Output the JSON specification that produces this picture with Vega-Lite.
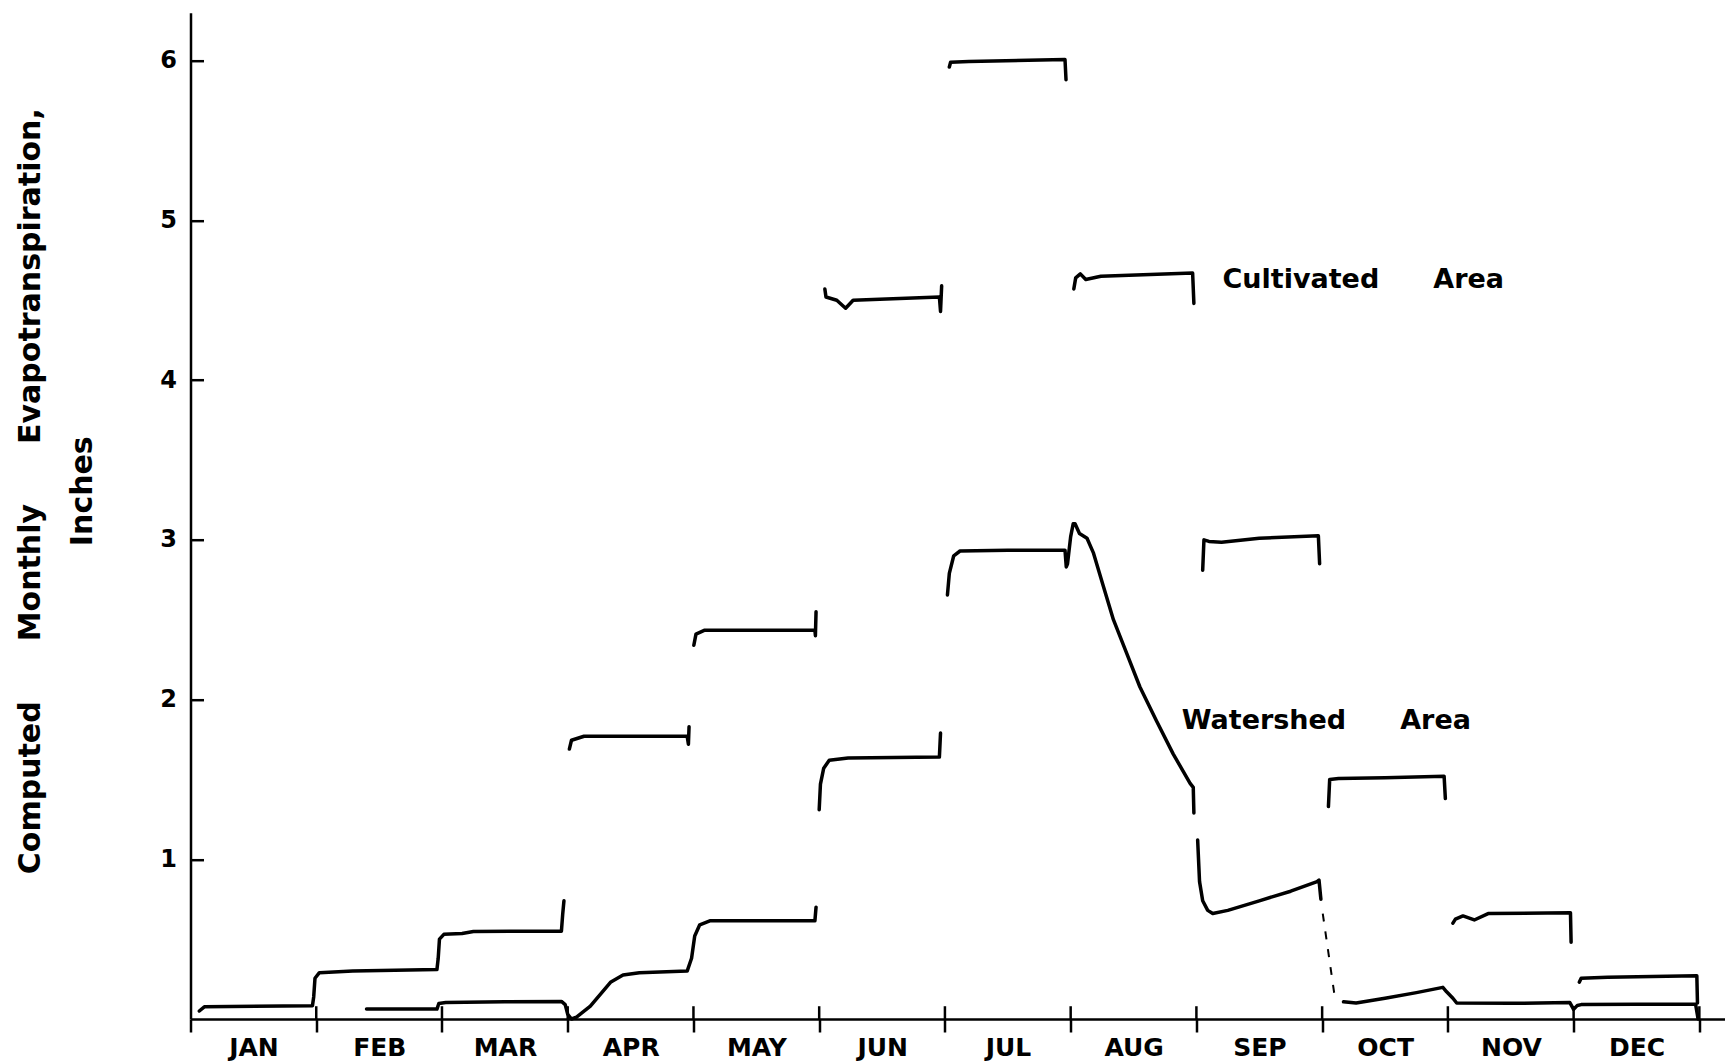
{
  "$schema": "https://vega.github.io/schema/vega-lite/v6.json",
  "width": 1534,
  "height": 1006.3,
  "autosize": {"type": "none"},
  "padding": {"left": 190.5, "top": 12.7, "right": 2.5, "bottom": 45},
  "background": "white",
  "config": {"view": {"stroke": null}, "font": "DejaVu Sans"},
  "datasets": {
    "lines": [
      {"area": "Cultivated", "seg": "C1", "month": 0.07, "inches": 0.05},
      {"area": "Cultivated", "seg": "C1", "month": 0.11, "inches": 0.076},
      {"area": "Cultivated", "seg": "C1", "month": 0.97, "inches": 0.083},
      {"area": "Cultivated", "seg": "C1", "month": 0.98, "inches": 0.14},
      {"area": "Cultivated", "seg": "C1", "month": 0.99, "inches": 0.255},
      {"area": "Cultivated", "seg": "C1", "month": 1.025, "inches": 0.29},
      {"area": "Cultivated", "seg": "C1", "month": 1.29, "inches": 0.3},
      {"area": "Cultivated", "seg": "C1", "month": 1.96, "inches": 0.31},
      {"area": "Cultivated", "seg": "C1", "month": 1.97, "inches": 0.38},
      {"area": "Cultivated", "seg": "C1", "month": 1.98, "inches": 0.5},
      {"area": "Cultivated", "seg": "C1", "month": 2.015, "inches": 0.53},
      {"area": "Cultivated", "seg": "C1", "month": 2.16, "inches": 0.535},
      {"area": "Cultivated", "seg": "C1", "month": 2.25, "inches": 0.548},
      {"area": "Cultivated", "seg": "C1", "month": 2.95, "inches": 0.55},
      {"area": "Cultivated", "seg": "C1", "month": 2.96, "inches": 0.655},
      {"area": "Cultivated", "seg": "C1", "month": 2.97, "inches": 0.74},
      {"area": "Cultivated", "seg": "C2", "month": 3.013, "inches": 1.69},
      {"area": "Cultivated", "seg": "C2", "month": 3.03, "inches": 1.745},
      {"area": "Cultivated", "seg": "C2", "month": 3.13, "inches": 1.77},
      {"area": "Cultivated", "seg": "C2", "month": 3.95, "inches": 1.77},
      {"area": "Cultivated", "seg": "C2", "month": 3.96, "inches": 1.72},
      {"area": "Cultivated", "seg": "C2", "month": 3.965, "inches": 1.83},
      {"area": "Cultivated", "seg": "C3", "month": 4.003, "inches": 2.34},
      {"area": "Cultivated", "seg": "C3", "month": 4.02, "inches": 2.41},
      {"area": "Cultivated", "seg": "C3", "month": 4.09, "inches": 2.434},
      {"area": "Cultivated", "seg": "C3", "month": 4.966, "inches": 2.434},
      {"area": "Cultivated", "seg": "C3", "month": 4.97, "inches": 2.4},
      {"area": "Cultivated", "seg": "C3", "month": 4.975, "inches": 2.55},
      {"area": "Cultivated", "seg": "C4", "month": 5.045, "inches": 4.57},
      {"area": "Cultivated", "seg": "C4", "month": 5.054, "inches": 4.52},
      {"area": "Cultivated", "seg": "C4", "month": 5.14, "inches": 4.5},
      {"area": "Cultivated", "seg": "C4", "month": 5.21, "inches": 4.45},
      {"area": "Cultivated", "seg": "C4", "month": 5.27, "inches": 4.5},
      {"area": "Cultivated", "seg": "C4", "month": 5.956, "inches": 4.52},
      {"area": "Cultivated", "seg": "C4", "month": 5.965, "inches": 4.43},
      {"area": "Cultivated", "seg": "C4", "month": 5.974, "inches": 4.59},
      {"area": "Cultivated", "seg": "C5", "month": 6.035, "inches": 5.96},
      {"area": "Cultivated", "seg": "C5", "month": 6.045, "inches": 5.99},
      {"area": "Cultivated", "seg": "C5", "month": 6.19, "inches": 5.995},
      {"area": "Cultivated", "seg": "C5", "month": 6.955, "inches": 6.007},
      {"area": "Cultivated", "seg": "C5", "month": 6.963, "inches": 5.88},
      {"area": "Cultivated", "seg": "C6", "month": 7.025, "inches": 4.57},
      {"area": "Cultivated", "seg": "C6", "month": 7.04, "inches": 4.64},
      {"area": "Cultivated", "seg": "C6", "month": 7.077, "inches": 4.665},
      {"area": "Cultivated", "seg": "C6", "month": 7.12, "inches": 4.63},
      {"area": "Cultivated", "seg": "C6", "month": 7.24, "inches": 4.65},
      {"area": "Cultivated", "seg": "C6", "month": 7.97, "inches": 4.67},
      {"area": "Cultivated", "seg": "C6", "month": 7.98, "inches": 4.48},
      {"area": "Cultivated", "seg": "C7", "month": 8.05, "inches": 2.81},
      {"area": "Cultivated", "seg": "C7", "month": 8.06, "inches": 3.0},
      {"area": "Cultivated", "seg": "C7", "month": 8.1, "inches": 2.99},
      {"area": "Cultivated", "seg": "C7", "month": 8.2, "inches": 2.985},
      {"area": "Cultivated", "seg": "C7", "month": 8.5, "inches": 3.01},
      {"area": "Cultivated", "seg": "C7", "month": 8.97, "inches": 3.025},
      {"area": "Cultivated", "seg": "C7", "month": 8.98, "inches": 2.85},
      {"area": "Cultivated", "seg": "C8", "month": 9.05, "inches": 1.33},
      {"area": "Cultivated", "seg": "C8", "month": 9.06, "inches": 1.5},
      {"area": "Cultivated", "seg": "C8", "month": 9.13, "inches": 1.505},
      {"area": "Cultivated", "seg": "C8", "month": 9.5, "inches": 1.51},
      {"area": "Cultivated", "seg": "C8", "month": 9.97, "inches": 1.52},
      {"area": "Cultivated", "seg": "C8", "month": 9.98, "inches": 1.38},
      {"area": "Cultivated", "seg": "C9", "month": 10.04, "inches": 0.6},
      {"area": "Cultivated", "seg": "C9", "month": 10.06, "inches": 0.625},
      {"area": "Cultivated", "seg": "C9", "month": 10.12, "inches": 0.645},
      {"area": "Cultivated", "seg": "C9", "month": 10.21, "inches": 0.62},
      {"area": "Cultivated", "seg": "C9", "month": 10.32, "inches": 0.66},
      {"area": "Cultivated", "seg": "C9", "month": 10.975, "inches": 0.665},
      {"area": "Cultivated", "seg": "C9", "month": 10.98, "inches": 0.48},
      {"area": "Cultivated", "seg": "C10", "month": 11.045, "inches": 0.23},
      {"area": "Cultivated", "seg": "C10", "month": 11.06, "inches": 0.255},
      {"area": "Cultivated", "seg": "C10", "month": 11.27, "inches": 0.262},
      {"area": "Cultivated", "seg": "C10", "month": 11.98, "inches": 0.27},
      {"area": "Cultivated", "seg": "C10", "month": 11.985, "inches": 0.1},
      {"area": "Watershed", "seg": "W1", "month": 1.4, "inches": 0.062},
      {"area": "Watershed", "seg": "W1", "month": 1.96, "inches": 0.062},
      {"area": "Watershed", "seg": "W1", "month": 1.975, "inches": 0.097},
      {"area": "Watershed", "seg": "W1", "month": 2.03, "inches": 0.103},
      {"area": "Watershed", "seg": "W1", "month": 2.5, "inches": 0.108},
      {"area": "Watershed", "seg": "W1", "month": 2.95, "inches": 0.11},
      {"area": "Watershed", "seg": "W1", "month": 2.98, "inches": 0.09},
      {"area": "Watershed", "seg": "W1", "month": 3.0, "inches": 0.03},
      {"area": "Watershed", "seg": "W1", "month": 3.03, "inches": 0.0},
      {"area": "Watershed", "seg": "W1", "month": 3.07, "inches": 0.012},
      {"area": "Watershed", "seg": "W1", "month": 3.18, "inches": 0.08},
      {"area": "Watershed", "seg": "W1", "month": 3.34, "inches": 0.23},
      {"area": "Watershed", "seg": "W1", "month": 3.44, "inches": 0.275},
      {"area": "Watershed", "seg": "W1", "month": 3.57, "inches": 0.29},
      {"area": "Watershed", "seg": "W1", "month": 3.95, "inches": 0.3},
      {"area": "Watershed", "seg": "W1", "month": 3.985, "inches": 0.38},
      {"area": "Watershed", "seg": "W1", "month": 4.01, "inches": 0.52},
      {"area": "Watershed", "seg": "W1", "month": 4.05, "inches": 0.59},
      {"area": "Watershed", "seg": "W1", "month": 4.13, "inches": 0.615},
      {"area": "Watershed", "seg": "W1", "month": 4.966, "inches": 0.615},
      {"area": "Watershed", "seg": "W1", "month": 4.975, "inches": 0.7},
      {"area": "Watershed", "seg": "W2", "month": 5.0, "inches": 1.31},
      {"area": "Watershed", "seg": "W2", "month": 5.01, "inches": 1.47},
      {"area": "Watershed", "seg": "W2", "month": 5.036, "inches": 1.57},
      {"area": "Watershed", "seg": "W2", "month": 5.08, "inches": 1.62},
      {"area": "Watershed", "seg": "W2", "month": 5.23, "inches": 1.634},
      {"area": "Watershed", "seg": "W2", "month": 5.956, "inches": 1.64},
      {"area": "Watershed", "seg": "W2", "month": 5.965, "inches": 1.79},
      {"area": "Watershed", "seg": "W3", "month": 6.02, "inches": 2.655},
      {"area": "Watershed", "seg": "W3", "month": 6.035, "inches": 2.79},
      {"area": "Watershed", "seg": "W3", "month": 6.07, "inches": 2.9},
      {"area": "Watershed", "seg": "W3", "month": 6.12, "inches": 2.93},
      {"area": "Watershed", "seg": "W3", "month": 6.5, "inches": 2.935},
      {"area": "Watershed", "seg": "W3", "month": 6.955, "inches": 2.935},
      {"area": "Watershed", "seg": "W3", "month": 6.965, "inches": 2.83},
      {"area": "Watershed", "seg": "W3", "month": 6.975, "inches": 2.85},
      {"area": "Watershed", "seg": "W3", "month": 7.0, "inches": 3.02},
      {"area": "Watershed", "seg": "W3", "month": 7.02, "inches": 3.1},
      {"area": "Watershed", "seg": "W3", "month": 7.035, "inches": 3.1},
      {"area": "Watershed", "seg": "W3", "month": 7.07, "inches": 3.04},
      {"area": "Watershed", "seg": "W3", "month": 7.13, "inches": 3.01},
      {"area": "Watershed", "seg": "W3", "month": 7.18, "inches": 2.92},
      {"area": "Watershed", "seg": "W3", "month": 7.26, "inches": 2.71},
      {"area": "Watershed", "seg": "W3", "month": 7.34, "inches": 2.5},
      {"area": "Watershed", "seg": "W3", "month": 7.445, "inches": 2.29},
      {"area": "Watershed", "seg": "W3", "month": 7.55, "inches": 2.08},
      {"area": "Watershed", "seg": "W3", "month": 7.68, "inches": 1.87},
      {"area": "Watershed", "seg": "W3", "month": 7.815, "inches": 1.66},
      {"area": "Watershed", "seg": "W3", "month": 7.95, "inches": 1.475},
      {"area": "Watershed", "seg": "W3", "month": 7.975, "inches": 1.45},
      {"area": "Watershed", "seg": "W3", "month": 7.98, "inches": 1.29},
      {"area": "Watershed", "seg": "W4", "month": 8.01, "inches": 1.12},
      {"area": "Watershed", "seg": "W4", "month": 8.025, "inches": 0.86},
      {"area": "Watershed", "seg": "W4", "month": 8.05, "inches": 0.74},
      {"area": "Watershed", "seg": "W4", "month": 8.09, "inches": 0.68},
      {"area": "Watershed", "seg": "W4", "month": 8.13, "inches": 0.66},
      {"area": "Watershed", "seg": "W4", "month": 8.25, "inches": 0.68},
      {"area": "Watershed", "seg": "W4", "month": 8.5, "inches": 0.74},
      {"area": "Watershed", "seg": "W4", "month": 8.75, "inches": 0.8},
      {"area": "Watershed", "seg": "W4", "month": 8.96, "inches": 0.86},
      {"area": "Watershed", "seg": "W4", "month": 8.975, "inches": 0.87},
      {"area": "Watershed", "seg": "W4", "month": 8.99, "inches": 0.75},
      {"area": "Watershed", "seg": "W5d", "month": 9.005, "inches": 0.66},
      {"area": "Watershed", "seg": "W5d", "month": 9.1, "inches": 0.14},
      {"area": "Watershed", "seg": "W6", "month": 9.17, "inches": 0.108},
      {"area": "Watershed", "seg": "W6", "month": 9.27, "inches": 0.1},
      {"area": "Watershed", "seg": "W6", "month": 9.5, "inches": 0.13},
      {"area": "Watershed", "seg": "W6", "month": 9.75, "inches": 0.165},
      {"area": "Watershed", "seg": "W6", "month": 9.96, "inches": 0.198},
      {"area": "Watershed", "seg": "W6", "month": 9.99, "inches": 0.17},
      {"area": "Watershed", "seg": "W6", "month": 10.04, "inches": 0.13},
      {"area": "Watershed", "seg": "W6", "month": 10.07, "inches": 0.1},
      {"area": "Watershed", "seg": "W6", "month": 10.5, "inches": 0.098},
      {"area": "Watershed", "seg": "W6", "month": 10.97, "inches": 0.103},
      {"area": "Watershed", "seg": "W6", "month": 11.0, "inches": 0.06},
      {"area": "Watershed", "seg": "W6", "month": 11.03, "inches": 0.085},
      {"area": "Watershed", "seg": "W6", "month": 11.06, "inches": 0.09},
      {"area": "Watershed", "seg": "W6", "month": 11.5, "inches": 0.093},
      {"area": "Watershed", "seg": "W6", "month": 11.97, "inches": 0.093},
      {"area": "Watershed", "seg": "W6", "month": 11.99, "inches": 0.0}
    ],
    "bounds": [
      {"month": 1}, {"month": 2}, {"month": 3}, {"month": 4}, {"month": 5}, {"month": 6},
      {"month": 7}, {"month": 8}, {"month": 9}, {"month": 10}, {"month": 11}, {"month": 12}
    ],
    "labels": [
      {"label": "Cultivated\u2003\u2003Area", "month": 8.207, "inches": 4.628},
      {"label": "Watershed\u2003\u2003Area", "month": 7.883, "inches": 1.863}
    ]
  },
  "layer": [
    {
      "data": {"name": "lines"},
      "transform": [{"filter": "datum.seg != 'W5d'"}],
      "mark": {"type": "line", "color": "black", "strokeWidth": 3.5, "strokeJoin": "round", "strokeCap": "round"},
      "encoding": {
        "x": {
          "field": "month", "type": "quantitative",
          "scale": {"domain": [0, 12.2], "nice": false, "zero": false},
          "axis": {
            "values": [0, 1, 2, 3, 4, 5, 6, 7, 8, 9, 10, 11, 12],
            "title": null, "grid": false,
            "labelExpr": "datum.value < 12 ? ['JAN','FEB','MAR','APR','MAY','JUN','JUL','AUG','SEP','OCT','NOV','DEC'][datum.value] : ''",
            "labelOffset": 63, "labelPadding": 15, "labelBaseline": "middle",
            "labelFlush": false, "labelOverlap": false, "labelBound": false,
            "labelFont": "DejaVu Sans", "labelFontWeight": "bold", "labelFontSize": 25, "labelColor": "black",
            "tickSize": 13, "tickWidth": 2.5, "tickColor": "black",
            "domainWidth": 2.5, "domainColor": "black"
          }
        },
        "y": {
          "field": "inches", "type": "quantitative",
          "scale": {"domain": [0, 6.3], "nice": false},
          "axis": {
            "values": [1, 2, 3, 4, 5, 6], "format": "d", "grid": false,
            "title": ["Computed\u2003\u2003Monthly\u2003\u2003Evapotranspiration,", "Inches"],
            "titleFont": "DejaVu Sans", "titleFontWeight": "bold", "titleFontSize": 30, "titleColor": "black",
            "titleAngle": -90, "titleX": -145, "titleY": 478, "titleAlign": "center", "titleBaseline": "bottom", "titleLineHeight": 52,
            "labelFont": "DejaVu Sans", "labelFontWeight": "bold", "labelFontSize": 24, "labelColor": "black",
            "labelPadding": 27, "labelBaseline": "middle",
            "tickSize": -13, "tickWidth": 2.5, "tickColor": "black",
            "domainWidth": 2.5, "domainColor": "black"
          }
        },
        "detail": {"field": "seg"},
        "order": {"value": null}
      }
    },
    {
      "data": {"name": "lines"},
      "transform": [{"filter": "datum.seg == 'W5d'"}],
      "mark": {"type": "line", "color": "black", "strokeWidth": 2, "strokeDash": [8, 10]},
      "encoding": {
        "x": {"field": "month", "type": "quantitative"},
        "y": {"field": "inches", "type": "quantitative"},
        "order": {"value": null}
      }
    },
    {
      "data": {"name": "bounds"},
      "mark": {"type": "rule", "color": "black", "strokeWidth": 2.5},
      "encoding": {
        "x": {"field": "month", "type": "quantitative"},
        "y": {"datum": 0},
        "y2": {"datum": 0.08}
      }
    },
    {
      "data": {"name": "labels"},
      "mark": {"type": "text", "align": "left", "baseline": "middle", "font": "DejaVu Sans", "fontWeight": "bold", "fontSize": 27, "color": "black"},
      "encoding": {
        "x": {"field": "month", "type": "quantitative"},
        "y": {"field": "inches", "type": "quantitative"},
        "text": {"field": "label"}
      }
    }
  ]
}
